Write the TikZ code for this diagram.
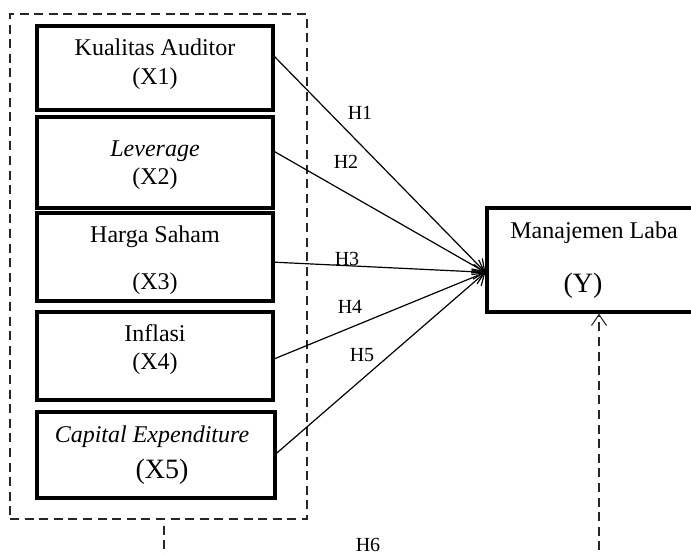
\documentclass[tikz,border=0pt]{standalone}
\usepackage{fontspec}
\setmainfont{Liberation Serif}
\usetikzlibrary{arrows.meta,calc}
\begin{document}
\begin{tikzpicture}[x=0.5pt,y=-0.5pt,
  varbox/.style={draw=black,line width=1.6pt,rectangle,inner sep=0pt,fill=white},
  grpbox/.style={draw=black!85,line width=0.55pt,dash pattern=on 4.5pt off 2.8pt,rectangle,inner sep=0pt},
  btext/.style={anchor=base,inner sep=0pt,font=\fontsize{12}{14}\selectfont},
  bigtext/.style={anchor=base,inner sep=0pt,font=\fontsize{14}{16}\selectfont},
  hlab/.style={inner sep=0pt,font=\fontsize{10}{12}\selectfont},
  link/.style={draw=black,line width=0.6pt,-{Straight Barb[length=5.5pt,width=7.5pt,line width=0.6pt]}},
  dlink/.style={draw=black!85,line width=0.55pt,dash pattern=on 4.5pt off 2.8pt}]
\useasboundingbox (0,0) rectangle (691,555);
\clip (0,0) rectangle (691,555);
% group
\node[grpbox,minimum width=148.5pt,minimum height=252.5pt] (grp) at (158.5,266.5) {};
% boxes
\node[varbox,minimum width=118pt,minimum height=42pt] (X1) at (155,68) {};
\node[varbox,minimum width=118pt,minimum height=45.5pt] (X2) at (155,162.5) {};
\node[varbox,minimum width=118pt,minimum height=44pt] (X3) at (155,257) {};
\node[varbox,minimum width=118pt,minimum height=44pt] (X4) at (155,356) {};
\node[varbox,minimum width=119pt,minimum height=43pt] (X5) at (156,455) {};
\node[varbox,minimum width=106.5pt,minimum height=52pt] (Y) at (593.5,260) {};
% texts
\node[btext] (t1a) at (155,56) {Kualitas Auditor};
\node[btext] (t1b) at (155,85) {(X1)};
\node[btext] (t2a) at (155,157) {\itshape Leverage};
\node[btext] (t2b) at (155,185) {(X2)};
\node[btext] (t3a) at (155,243) {Harga Saham};
\node[btext] (t3b) at (155,290) {(X3)};
\node[btext] (t4a) at (155,342) {Inflasi};
\node[btext] (t4b) at (155,370) {(X4)};
\node[btext] (t5a) at (152,443) {\itshape Capital Expenditure};
\node[bigtext] (t5b) at (162,479) {(X5)};
\node[btext] (tya) at (594,239) {Manajemen Laba};
\node[bigtext] (tyb) at (583,293) {(Y)};
% arrows
\coordinate (tip) at ($(Y.north west)!0.615!(Y.south west)$);
\draw[link] ($(X1.north east)!0.37!(X1.south east)$) -- (tip);
\draw[link] ($(X2.north east)!0.385!(X2.south east)$) -- (tip);
\draw[link] ($(X3.north east)!0.557!(X3.south east)$) -- (tip);
\draw[link] ($(X4.north east)!0.53!(X4.south east)$) -- (tip);
\draw[link] ($(X5.north east)!0.48!(X5.south east)$) -- (tip);
% hypothesis labels
\node[hlab] (H1) at (360,113) {H1};
\node[hlab] (H2) at (346,162) {H2};
\node[hlab] (H3) at (347,259) {H3};
\node[hlab] (H4) at (350,307) {H4};
\node[hlab] (H5) at (362,355) {H5};
\node[hlab] (H6) at (368,545) {H6};
% H6 connector
\coordinate (h6a) at (599,565);
\draw[dlink] ($(grp.south)+(5.5,6)$) -- ($(grp.south)+(5.5,50)$);
\draw[dlink,-{Straight Barb[length=5.5pt,width=7.5pt,line width=0.55pt]}] (h6a) -- (h6a |- Y.south);
\end{tikzpicture}
\end{document}
